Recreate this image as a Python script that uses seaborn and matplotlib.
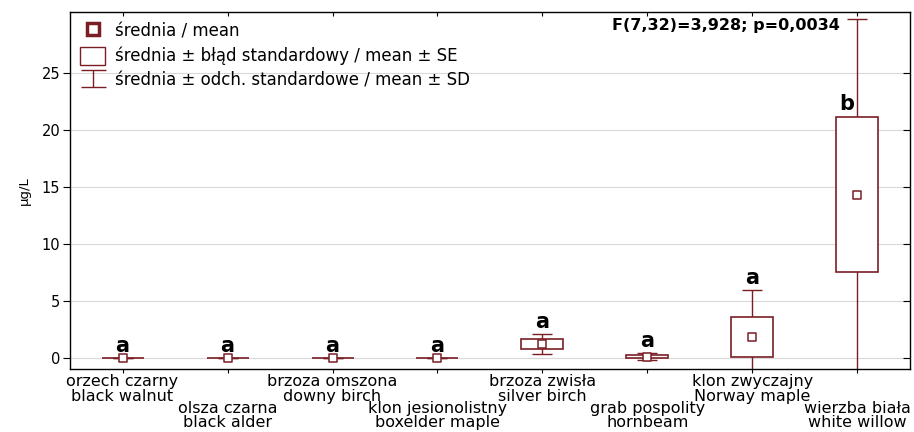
import numpy as np
import pandas as pd
import matplotlib
matplotlib.use("Agg")
import matplotlib.pyplot as plt
import seaborn as sns
from matplotlib.lines import Line2D
from matplotlib.patches import Patch

# ── Data ───────────────────────────────────────────────────────────────────────
species_pl = ["orzech czarny", "olsza czarna", "brzoza omszona", "klon jesionolistny",
              "brzoza zwisła", "grab pospolity", "klon zwyczajny", "wierzba biała"]
species_en = ["black walnut", "black alder", "downy birch", "boxelder maple",
              "silver birch", "hornbeam", "Norway maple", "white willow"]
means = [0.0, 0.0, 0.0, 0.0, 1.23, 0.12, 1.85, 14.3]
se = [0.0, 0.0, 0.0, 0.0, 0.43, 0.12, 1.75, 6.8]
sd = [0.0, 0.0, 0.0, 0.0, 0.85, 0.30, 4.1, 15.4]
groups = ["a", "a", "a", "a", "a", "a", "a", "b"]
stat_text = "F(7,32)=3,928; p=0,0034"

MAROON = "#7a1e24"

df = pd.DataFrame({
    "species": [f"{p}\n{e}" for p, e in zip(species_pl, species_en)],
    "mean": means, "se": se, "sd": sd, "group": groups,
})
x = np.arange(len(df))

# ── Plot ───────────────────────────────────────────────────────────────────────
sns.set_theme(style="ticks")
plt.rcParams["font.family"] = ["DejaVu Sans"]
plt.rcParams.update({"text.color": "black", "axes.labelcolor": "black",
                     "xtick.color": "black", "ytick.color": "black"})

fig, ax = plt.subplots(figsize=(9.14, 4.32), dpi=100)
fig.subplots_adjust(left=0.0766, right=0.9956, top=0.972, bottom=0.146)

ax.yaxis.grid(True, color="#d9d9d9", linewidth=0.8, zorder=0)
ax.set_axisbelow(True)

# mean ± SD whiskers
ax.errorbar(x, df["mean"], yerr=df["sd"], fmt="none", ecolor=MAROON,
            elinewidth=1.0, capsize=7, capthick=1.0, zorder=2)
# mean ± SE boxes
ax.bar(x, 2 * df["se"], bottom=df["mean"] - df["se"], width=0.4,
       color="white", edgecolor=MAROON, linewidth=1.2, zorder=3)
# means
sns.scatterplot(data=df, x="species", y="mean", marker="s", s=34,
                facecolor="white", edgecolor=MAROON, linewidth=1.1,
                zorder=4, ax=ax, legend=False)

# group letters
for i, row in df.iterrows():
    if row["group"] == "b":
        ax.annotate(row["group"], (i, row["mean"] + row["se"]), xytext=(-8, 5),
                    textcoords="offset points", ha="center", va="baseline",
                    fontsize=15, fontweight="bold", zorder=5)
    else:
        ax.annotate(row["group"], (i, row["mean"] + row["sd"]), xytext=(0, 4.5),
                    textcoords="offset points", ha="center", va="baseline",
                    fontsize=15, fontweight="bold", zorder=5)

ax.text(0.917, 0.962, stat_text, transform=ax.transAxes, ha="right", va="center",
        fontsize=11.5, fontweight="bold")

ax.set_xlim(-0.5, len(df) - 0.5)
ax.set_ylim(-0.95, 30.3)
ax.set_yticks([0, 5, 10, 15, 20, 25])
ax.set_xticks(x)
ax.set_xticklabels(df["species"], fontsize=11.5, linespacing=0.92)
for i, tick in enumerate(ax.xaxis.get_major_ticks()):
    tick.set_pad(1 if i % 2 == 0 else 20)
ax.tick_params(axis="x", length=3, width=0.8, direction="out")
ax.tick_params(axis="y", length=5, width=0.8, direction="out", labelsize=10.5, pad=2)
ax.tick_params(top=True, right=True, which="major")
ax.set_xlabel("")
ax.set_ylabel("µg/L", fontsize=9.5, labelpad=8)

# top/right ticks point inward
for t in ax.xaxis.get_major_ticks():
    t.tick2line.set_marker(3)
for t in ax.yaxis.get_major_ticks():
    t.tick2line.set_marker(0)

for s in ax.spines.values():
    s.set_color("black")
    s.set_linewidth(1.0)

# legend
h_mean = Line2D([], [], marker="s", linestyle="none", markerfacecolor="white",
                markeredgecolor=MAROON, markeredgewidth=2.5, markersize=8)
h_se = Patch(facecolor="white", edgecolor=MAROON, linewidth=1.0)
h_sd = ax.errorbar([np.nan], [np.nan], yerr=[1], fmt="none", ecolor=MAROON,
                   elinewidth=1.0, capsize=9, capthick=1.0)
ax.legend([h_mean, h_se, h_sd],
          ["średnia / mean", "średnia ± błąd standardowy / mean ± SE",
           "średnia ± odch. standardowe / mean ± SD"],
          loc="upper left", frameon=False, fontsize=12, handlelength=1.5,
          handleheight=1.3, labelspacing=0.35, handletextpad=0.6,
          borderaxespad=0.2, borderpad=0.4)

plt.savefig("out.png", dpi=100)
plt.close()
